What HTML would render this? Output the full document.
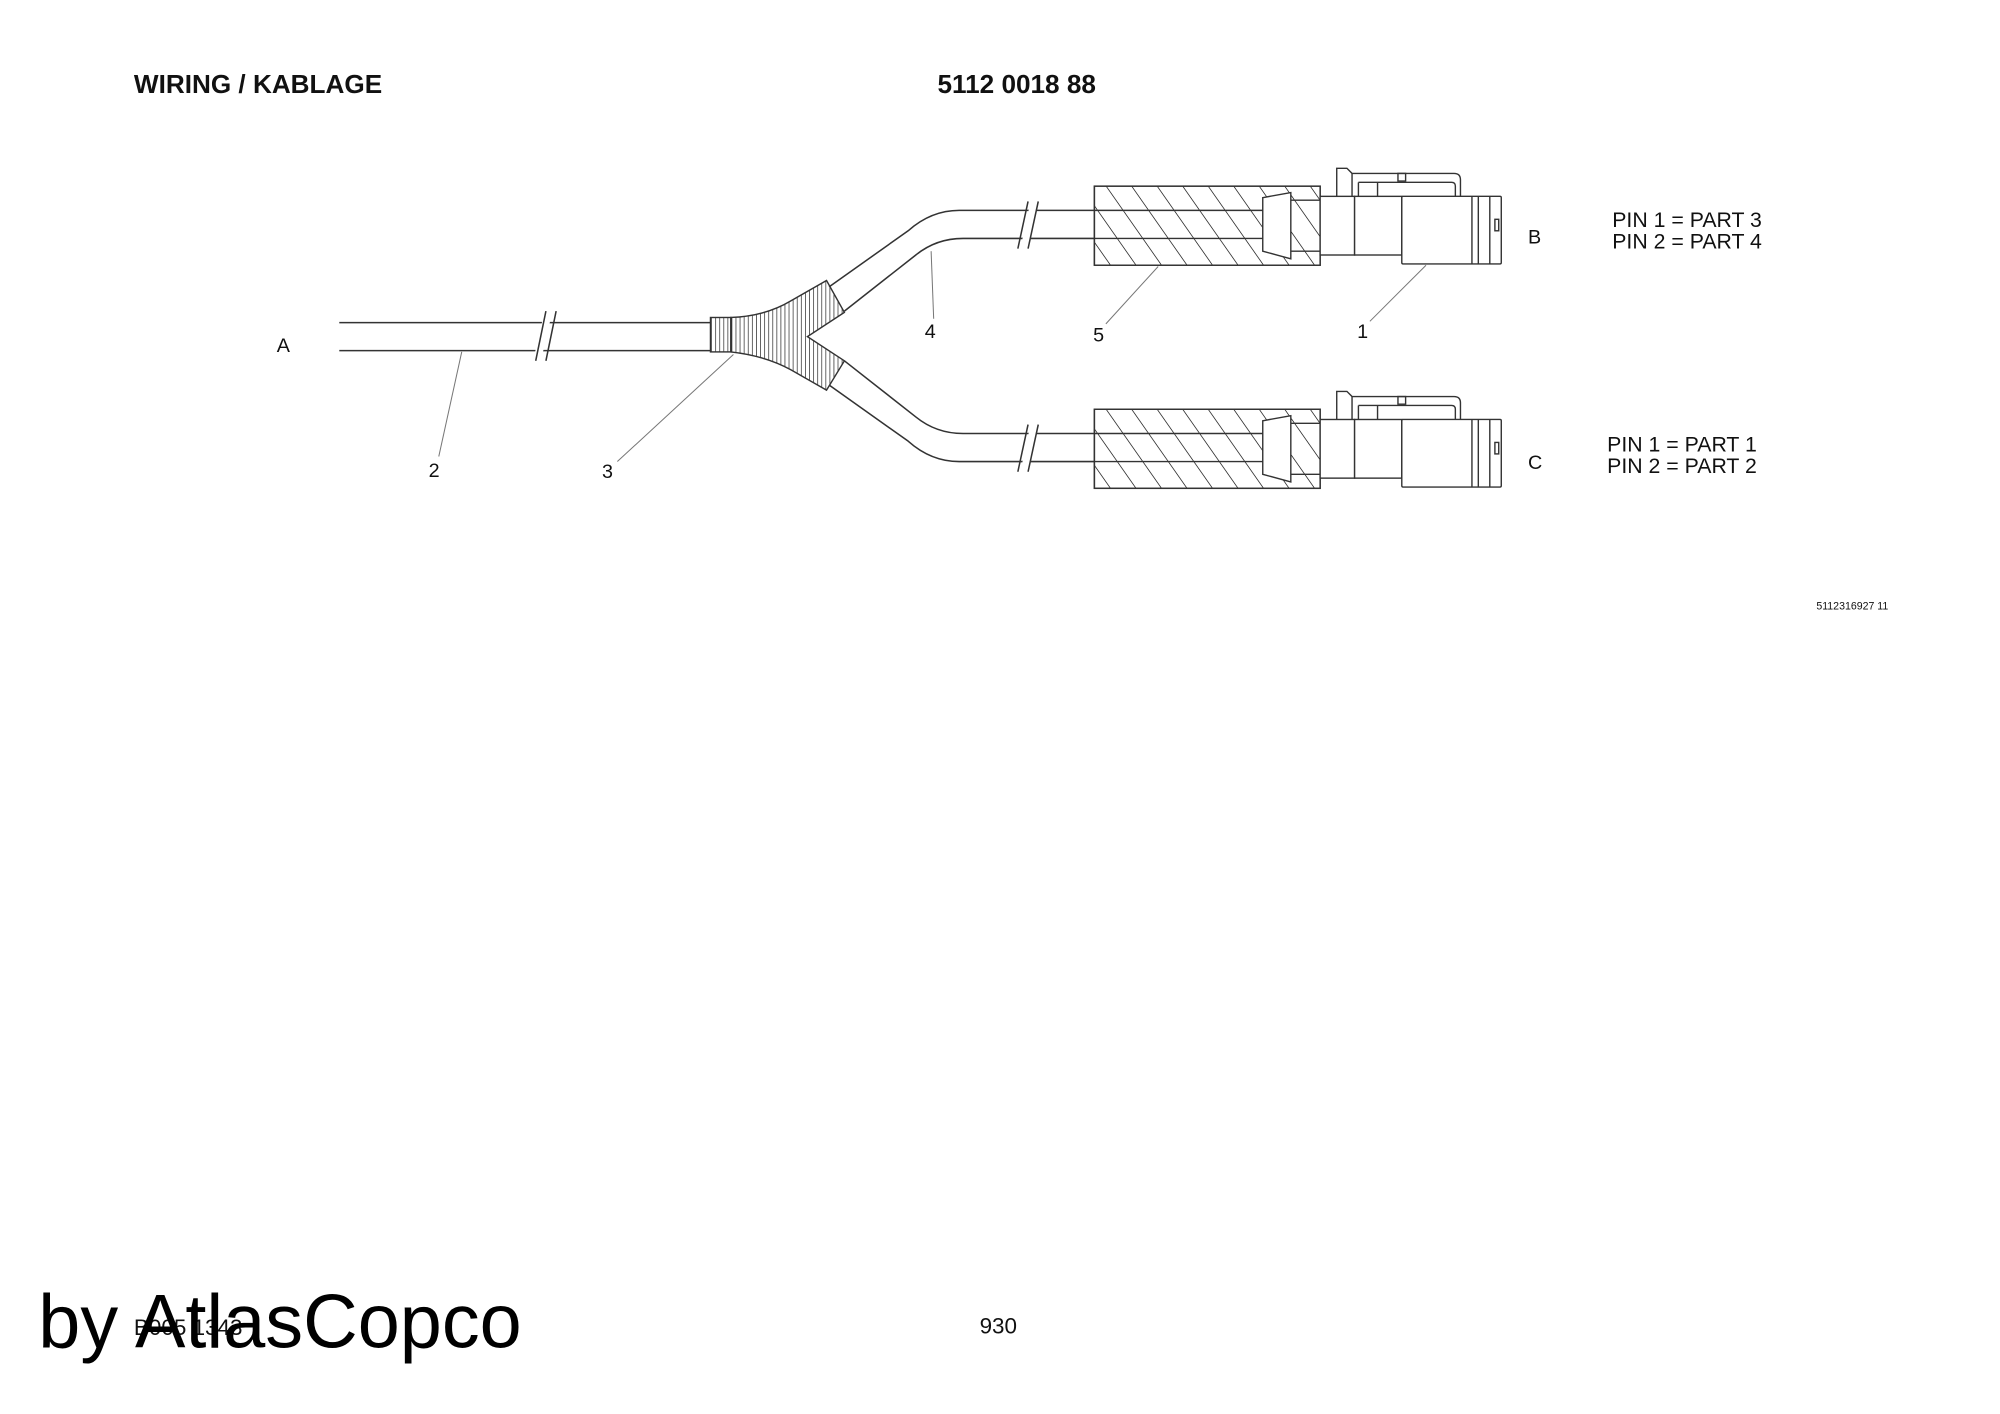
<!DOCTYPE html>
<html><head><meta charset="utf-8"><style>
html,body{margin:0;padding:0;background:#fff;}
svg{display:block}
text{font-family:"Liberation Sans",Arial,sans-serif;fill:#111}
</style></head><body>
<svg width="2000" height="1414" viewBox="0 0 1568 1109" preserveAspectRatio="none" xmlns="http://www.w3.org/2000/svg">
<defs>
<pattern id="diag" patternUnits="userSpaceOnUse" width="20" height="20" patternTransform="skewX(35)">
<line x1="5" y1="0" x2="5" y2="20" stroke="#333" stroke-width="0.8"/>
</pattern>
<pattern id="vert" patternUnits="userSpaceOnUse" width="3.2" height="10">
<line x1="1" y1="0" x2="1" y2="10" stroke="#333" stroke-width="0.6"/>
</pattern>
<g id="conn" fill="none" stroke="#333" stroke-width="1.1">
<rect x="858" y="146" width="177" height="62" fill="#fff"/>
<rect x="858" y="146" width="177" height="62" fill="url(#diag)"/>
<line x1="858" y1="165" x2="990" y2="165"/>
<line x1="858" y1="187" x2="990" y2="187"/>
<polygon points="990,155 1012,151 1012,203 990,197" fill="#fff"/>
<line x1="1012" y1="157" x2="1035" y2="157"/>
<line x1="1012" y1="197" x2="1035" y2="197"/>
<rect x="1035" y="154" width="27" height="46" fill="#fff"/>
<rect x="1062" y="154" width="37" height="46" fill="#fff"/>
<rect x="1099" y="154" width="78" height="53" fill="#fff" rx="1"/>
<line x1="1154" y1="154" x2="1154" y2="207"/>
<line x1="1159" y1="154" x2="1159" y2="207"/>
<line x1="1168" y1="154" x2="1168" y2="207"/>
<rect x="1172" y="172" width="3" height="9"/>
<path d="M1048,154 V132 H1056 L1060,136 H1140 Q1145,136 1145,141 V154"/>
<path d="M1060,136 V154 M1065,143 H1138 Q1141,143 1141,146 V154 M1065,143 V154 M1080,143 V154"/>
<rect x="1096" y="136" width="6" height="6"/>
</g>
</defs>

<text x="105" y="73" font-size="20.5" font-weight="bold">WIRING / KABLAGE</text>
<text x="735" y="73" font-size="20.5" font-weight="bold">5112 0018 88</text>

<g fill="none" stroke="#333" stroke-width="1.2">
<line x1="266" y1="253" x2="557" y2="253"/>
<line x1="266" y1="275" x2="557" y2="275"/>
<line x1="421" y1="283" x2="430" y2="244" stroke="#fff" stroke-width="6"/>
<line x1="420" y1="283" x2="428" y2="244"/>
<line x1="428" y1="283" x2="436" y2="244"/>
<path d="M650,225 L712,181 Q730,165 752,165 H858"/>
<path d="M662,244 L718,200 Q734,187 755,187 H858"/>
<path d="M650,302 L712,346 Q730,362 752,362 H858"/>
<path d="M662,283 L718,327 Q734,340 755,340 H858"/>
<g stroke="#fff" stroke-width="6"><line x1="803" y1="195" x2="811" y2="158"/><line x1="803" y1="370" x2="811" y2="333"/></g>
<line x1="798" y1="195" x2="806" y2="158"/><line x1="806" y1="195" x2="814" y2="158"/>
<line x1="798" y1="370" x2="806" y2="333"/><line x1="806" y1="370" x2="814" y2="333"/>
</g>
<g stroke="#333" stroke-width="1.1">
<rect x="557" y="249" width="16" height="27" fill="url(#vert)"/>
<path d="M573,249 Q600,248 620,236 L648,220 L662,245 L633,264 L662,283 L648,306 L620,290 Q600,279 573,276 Z" fill="url(#vert)"/>
</g>

<use href="#conn"/>
<use href="#conn" transform="translate(0,175)"/>

<g stroke="#777" stroke-width="0.8">
<line x1="362" y1="276" x2="344" y2="358"/>
<line x1="575" y1="278" x2="484" y2="362"/>
<line x1="730" y1="197" x2="732" y2="250"/>
<line x1="908" y1="209" x2="867" y2="254"/>
<line x1="1118" y1="208" x2="1074" y2="252"/>
</g>

<g font-size="15.5">
<text x="217" y="276">A</text>
<text x="336" y="374">2</text>
<text x="472" y="375">3</text>
<text x="725" y="265">4</text>
<text x="857" y="268">5</text>
<text x="1064" y="265">1</text>
<text x="1198" y="191">B</text>
<text x="1198" y="368">C</text>
</g>
<g font-size="16.7">
<text x="1264" y="178">PIN 1 = PART 3</text>
<text x="1264" y="195">PIN 2 = PART 4</text>
<text x="1260" y="354">PIN 1 = PART 1</text>
<text x="1260" y="371">PIN 2 = PART 2</text>
</g>
<text x="1424" y="478" font-size="8.3">5112316927 11</text>
<text x="768" y="1046" font-size="17.6">930</text>
<text x="105" y="1047" font-size="17.6">B005 1343</text>
<text x="30" y="1057" font-size="59.3" style="fill:#000">by AtlasCopco</text>
</svg>
</body></html>
